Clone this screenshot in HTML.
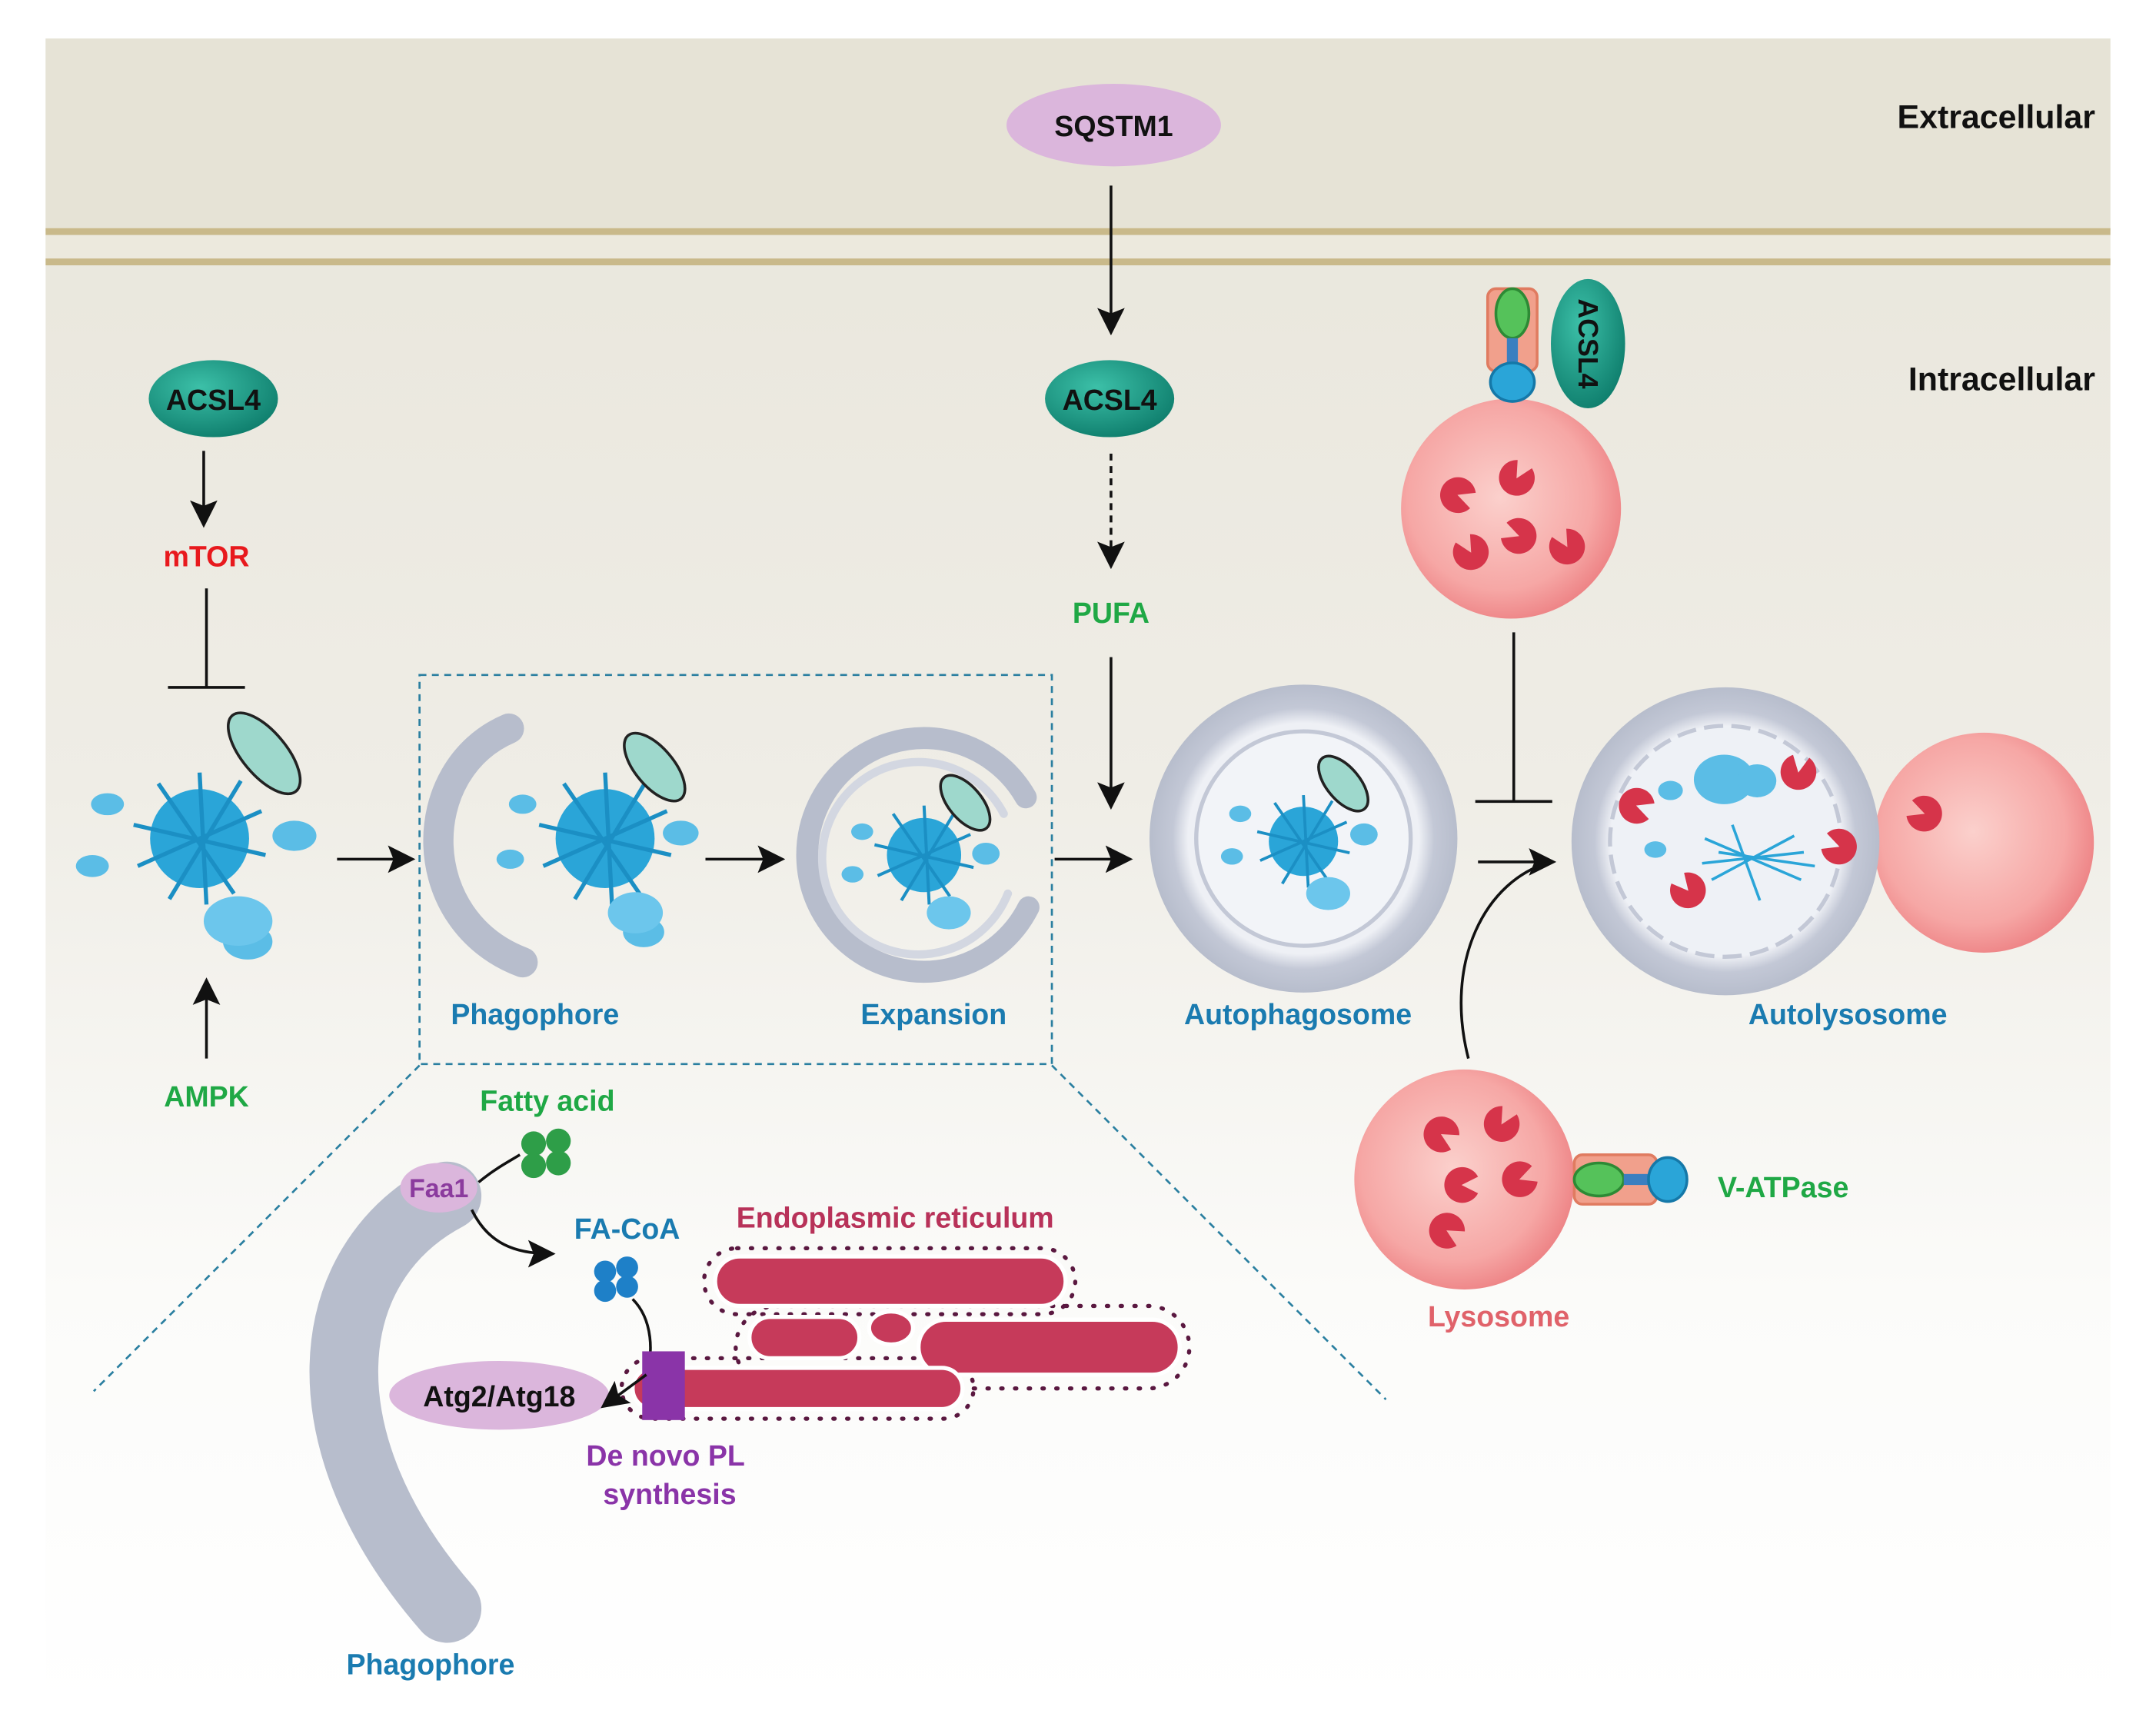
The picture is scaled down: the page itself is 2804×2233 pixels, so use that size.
<!DOCTYPE html>
<html><head><meta charset="utf-8"><style>
html,body{margin:0;padding:0;background:#fff}
svg{display:block}
text{font-family:"Liberation Sans",sans-serif;font-weight:bold}
</style></head><body>
<svg width="2804" height="2233" viewBox="0 0 1568 1249" xmlns="http://www.w3.org/2000/svg">
<defs>
<linearGradient id="bg" x1="0" y1="0" x2="0" y2="1">
<stop offset="0" stop-color="#e8e5da"/><stop offset="0.45" stop-color="#efede6"/><stop offset="0.75" stop-color="#fbfbf9"/><stop offset="1" stop-color="#ffffff"/>
</linearGradient>
<radialGradient id="teal" cx="0.4" cy="0.35" r="0.7"><stop offset="0" stop-color="#3cc0a8"/><stop offset="1" stop-color="#0e7d6c"/></radialGradient>
<radialGradient id="pink" cx="0.45" cy="0.45" r="0.6"><stop offset="0" stop-color="#fbd0cc"/><stop offset="0.7" stop-color="#f6a7a5"/><stop offset="1" stop-color="#ec7d80"/></radialGradient>
<radialGradient id="gray" cx="0.5" cy="0.5" r="0.5"><stop offset="0.75" stop-color="#eef0f5"/><stop offset="0.85" stop-color="#c3c8d6"/><stop offset="1" stop-color="#b7bdcc"/></radialGradient>
<marker id="ah" markerWidth="10" markerHeight="10" refX="8" refY="5" orient="auto" markerUnits="userSpaceOnUse"><path d="M0,0 L10,5 L0,10 Z" fill="#111"/></marker>
<marker id="ahb" markerWidth="20" markerHeight="20" refX="16" refY="10" orient="auto" markerUnits="userSpaceOnUse"><path d="M0,0 L20,10 L0,20 L4,10 Z" fill="#111"/></marker>
<g id="cluster">
<circle r="36" fill="#2aa5d8"/>
<g stroke="#1b8fc4" stroke-width="3">
<line x1="-48" y1="-10" x2="48" y2="12"/><line x1="-30" y1="-40" x2="25" y2="40"/><line x1="30" y1="-42" x2="-22" y2="44"/><line x1="-45" y1="20" x2="45" y2="-20"/><line x1="0" y1="-48" x2="5" y2="48"/>
</g>
</g>
<g id="pac"><path d="M0,0 L12,-6 A13,13 0 1 0 12,6 Z" fill="#d6344a"/></g>
<g id="vat">
<rect x="-18" y="-40" width="36" height="60" rx="6" fill="#f1a08c" stroke="#e07b60" stroke-width="2"/>
<ellipse cx="0" cy="-22" rx="12" ry="18" fill="#55c25a" stroke="#2d8a35" stroke-width="2"/>
<rect x="-4" y="-4" width="8" height="22" fill="#3b7fc0"/>
<ellipse cx="0" cy="28" rx="16" ry="14" fill="#2aa5d8" stroke="#1578a8" stroke-width="2"/>
</g>
</defs>

<rect x="33" y="28" width="1502" height="1215" fill="url(#bg)"/>
<rect x="33" y="28" width="1502" height="140" fill="#e6e3d6"/>
<rect x="33" y="166" width="1502" height="5" fill="#c9b98a"/>
<rect x="33" y="188" width="1502" height="5" fill="#c9b98a"/>
<rect x="33" y="171" width="1502" height="17" fill="#ece9dd"/>

<text x="1524" y="93" font-size="24" text-anchor="end" fill="#111">Extracellular</text>
<text x="1524" y="284" font-size="24" text-anchor="end" fill="#111">Intracellular</text>

<ellipse cx="810" cy="91" rx="78" ry="30" fill="#dbb6dc"/>
<text x="810" y="99" font-size="21" text-anchor="middle" fill="#111">SQSTM1</text>
<line x1="808" y1="135" x2="808" y2="240" stroke="#111" stroke-width="2" marker-end="url(#ahb)"/>

<ellipse cx="155" cy="290" rx="47" ry="28" fill="url(#teal)"/>
<text x="155" y="298" font-size="21" text-anchor="middle" fill="#111">ACSL4</text>
<ellipse cx="807" cy="290" rx="47" ry="28" fill="url(#teal)"/>
<text x="807" y="298" font-size="21" text-anchor="middle" fill="#111">ACSL4</text>

<line x1="808" y1="330" x2="808" y2="410" stroke="#111" stroke-width="2" stroke-dasharray="5,4" marker-end="url(#ahb)"/>
<text x="808" y="453" font-size="21" text-anchor="middle" fill="#1fa845">PUFA</text>
<line x1="808" y1="478" x2="808" y2="585" stroke="#111" stroke-width="2" marker-end="url(#ahb)"/>

<line x1="148" y1="328" x2="148" y2="380" stroke="#111" stroke-width="2" marker-end="url(#ahb)"/>
<text x="150" y="412" font-size="21" text-anchor="middle" fill="#e8191d">mTOR</text>
<line x1="150" y1="428" x2="150" y2="500" stroke="#111" stroke-width="2"/>
<line x1="122" y1="500" x2="178" y2="500" stroke="#111" stroke-width="2"/>

<!-- cargo 1 -->
<use href="#cluster" x="145" y="610"/>
<ellipse cx="192" cy="548" rx="16" ry="36" transform="rotate(-40 192 548)" fill="#9ed8cc" stroke="#222" stroke-width="2"/>
<ellipse cx="78" cy="585" rx="12" ry="8" fill="#5bbde6"/><ellipse cx="67" cy="630" rx="12" ry="8" fill="#5bbde6"/>
<ellipse cx="214" cy="608" rx="16" ry="11" fill="#5bbde6"/>
<ellipse cx="180" cy="685" rx="18" ry="13" fill="#5bbde6"/><ellipse cx="173" cy="670" rx="25" ry="18" fill="#6cc6ec"/>
<line x1="150" y1="770" x2="150" y2="715" stroke="#111" stroke-width="2" marker-end="url(#ahb)"/>
<text x="150" y="805" font-size="21" text-anchor="middle" fill="#1fa845">AMPK</text>
<line x1="245" y1="625" x2="298" y2="625" stroke="#111" stroke-width="2" marker-end="url(#ahb)"/>

<rect x="305" y="491" width="460" height="283" fill="none" stroke="#2a7fa0" stroke-width="1.5" stroke-dasharray="5,4"/>

<!-- phagophore crescent -->
<path d="M370,530 C300,560 300,670 380,700" fill="none" stroke="#b7bdcc" stroke-width="22" stroke-linecap="round"/>
<use href="#cluster" x="440" y="610" transform="scale(1)"/>
<ellipse cx="476" cy="558" rx="14" ry="30" transform="rotate(-40 476 558)" fill="#9ed8cc" stroke="#222" stroke-width="2"/>
<ellipse cx="380" cy="585" rx="10" ry="7" fill="#5bbde6"/><ellipse cx="371" cy="625" rx="10" ry="7" fill="#5bbde6"/>
<ellipse cx="495" cy="606" rx="13" ry="9" fill="#5bbde6"/>
<ellipse cx="468" cy="678" rx="15" ry="11" fill="#5bbde6"/><ellipse cx="462" cy="664" rx="20" ry="15" fill="#6cc6ec"/>
<line x1="513" y1="625" x2="567" y2="625" stroke="#111" stroke-width="2" marker-end="url(#ahb)"/>

<!-- expansion -->
<path d="M746,580 A85,85 0 1 0 748,660" fill="none" stroke="#b7bdcc" stroke-width="16" stroke-linecap="round"/>
<path d="M730,592 A70,70 0 1 0 733,650" fill="none" stroke="#d3d7e1" stroke-width="6" stroke-linecap="round"/>
<use href="#cluster" x="0" y="0" transform="translate(672 622) scale(0.75)"/>
<ellipse cx="702" cy="584" rx="12" ry="24" transform="rotate(-40 702 584)" fill="#9ed8cc" stroke="#222" stroke-width="2"/>
<ellipse cx="627" cy="605" rx="8" ry="6" fill="#5bbde6"/><ellipse cx="620" cy="636" rx="8" ry="6" fill="#5bbde6"/>
<ellipse cx="717" cy="621" rx="10" ry="8" fill="#5bbde6"/><ellipse cx="690" cy="664" rx="16" ry="12" fill="#6cc6ec"/>
<line x1="767" y1="625" x2="820" y2="625" stroke="#111" stroke-width="2" marker-end="url(#ahb)"/>

<!-- autophagosome -->
<circle cx="948" cy="610" r="112" fill="url(#gray)"/>
<circle cx="948" cy="610" r="78" fill="#f2f4f8" stroke="#c3c8d6" stroke-width="3"/>
<use href="#cluster" x="0" y="0" transform="translate(948 612) scale(0.7)"/>
<ellipse cx="977" cy="570" rx="12" ry="24" transform="rotate(-40 977 570)" fill="#9ed8cc" stroke="#222" stroke-width="2"/>
<ellipse cx="902" cy="592" rx="8" ry="6" fill="#5bbde6"/><ellipse cx="896" cy="623" rx="8" ry="6" fill="#5bbde6"/>
<ellipse cx="992" cy="607" rx="10" ry="8" fill="#5bbde6"/><ellipse cx="966" cy="650" rx="16" ry="12" fill="#6cc6ec"/>

<!-- top lysosome + ACSL4 -->
<circle cx="1099" cy="370" r="80" fill="url(#pink)"/>
<use href="#pac" transform="translate(1060 360) rotate(20)"/>
<use href="#pac" transform="translate(1103 348) rotate(-60)"/>
<use href="#pac" transform="translate(1105 390) rotate(200)"/>
<use href="#pac" transform="translate(1070 402) rotate(-120)"/>
<use href="#pac" transform="translate(1140 398) rotate(240)"/>
<use href="#vat" transform="translate(1100 250)"/>
<ellipse cx="1155" cy="250" rx="27" ry="47" fill="url(#teal)"/>
<text x="0" y="0" font-size="20" text-anchor="middle" fill="#111" transform="translate(1148 250) rotate(90)">ACSL4</text>

<line x1="1101" y1="460" x2="1101" y2="583" stroke="#111" stroke-width="2"/>
<line x1="1073" y1="583" x2="1129" y2="583" stroke="#111" stroke-width="2"/>
<line x1="1075" y1="627" x2="1128" y2="627" stroke="#111" stroke-width="2" marker-end="url(#ahb)"/>
<path d="M1068,770 C1050,700 1080,640 1128,627" fill="none" stroke="#111" stroke-width="2"/>

<!-- autolysosome -->
<circle cx="1443" cy="613" r="80" fill="url(#pink)"/>
<use href="#pac" transform="translate(1400 592) rotate(200)"/>
<circle cx="1255" cy="612" r="112" fill="url(#gray)"/>
<circle cx="1255" cy="612" r="84" fill="#eef1f6" stroke="#c3c8d6" stroke-width="3" stroke-dasharray="14,6"/>
<ellipse cx="1254" cy="567" rx="22" ry="18" fill="#5bbde6"/><ellipse cx="1278" cy="568" rx="14" ry="12" fill="#5bbde6"/>
<ellipse cx="1215" cy="575" rx="9" ry="7" fill="#5bbde6"/><ellipse cx="1204" cy="618" rx="8" ry="6" fill="#5bbde6"/>
<g stroke="#2aa5d8" stroke-width="2"><line x1="1240" y1="610" x2="1310" y2="640"/><line x1="1245" y1="640" x2="1305" y2="608"/><line x1="1250" y1="620" x2="1320" y2="630"/><line x1="1260" y1="600" x2="1280" y2="655"/><line x1="1238" y1="628" x2="1312" y2="620"/></g>
<use href="#pac" transform="translate(1190 586) rotate(20)"/>
<use href="#pac" transform="translate(1308 562) rotate(-80)"/>
<use href="#pac" transform="translate(1338 616) rotate(200)"/>
<use href="#pac" transform="translate(1228 648) rotate(-130)"/>

<text x="389" y="745" font-size="21" text-anchor="middle" fill="#1a7bb0">Phagophore</text>
<text x="679" y="745" font-size="21" text-anchor="middle" fill="#1a7bb0">Expansion</text>
<text x="944" y="745" font-size="21" text-anchor="middle" fill="#1a7bb0">Autophagosome</text>
<text x="1344" y="745" font-size="21" text-anchor="middle" fill="#1a7bb0">Autolysosome</text>

<!-- bottom lysosome -->
<circle cx="1065" cy="858" r="80" fill="url(#pink)"/>
<use href="#pac" transform="translate(1048 825) rotate(30)"/>
<use href="#pac" transform="translate(1092 818) rotate(-60)"/>
<use href="#pac" transform="translate(1063 862) rotate(0)"/>
<use href="#pac" transform="translate(1105 858) rotate(-20)"/>
<use href="#pac" transform="translate(1052 895) rotate(30)"/>
<use href="#vat" transform="translate(1185 858) rotate(-90)"/>
<text x="1297" y="871" font-size="21" text-anchor="middle" fill="#1fa845">V-ATPase</text>
<text x="1090" y="965" font-size="21" text-anchor="middle" fill="#e0626a">Lysosome</text>

<!-- zoom lines -->
<line x1="305" y1="775" x2="68" y2="1012" stroke="#2a7fa0" stroke-width="1.5" stroke-dasharray="5,4"/>
<line x1="765" y1="775" x2="1008" y2="1018" stroke="#2a7fa0" stroke-width="1.5" stroke-dasharray="5,4"/>

<!-- bottom detail -->
<path d="M325,870 C230,920 220,1050 325,1170" fill="none" stroke="#b7bdcc" stroke-width="50" stroke-linecap="round"/>
<text x="313" y="1218" font-size="21" text-anchor="middle" fill="#1a7bb0">Phagophore</text>
<text x="398" y="808" font-size="21" text-anchor="middle" fill="#1fa845">Fatty acid</text>
<g fill="#2e9e48"><circle cx="388" cy="832" r="9"/><circle cx="406" cy="830" r="9"/><circle cx="388" cy="848" r="9"/><circle cx="406" cy="846" r="9"/></g>
<path d="M348,860 C360,850 370,845 378,840" fill="none" stroke="#111" stroke-width="2"/>
<ellipse cx="319" cy="864" rx="28" ry="18" fill="#dbb6dc"/>
<text x="319" y="871" font-size="19" text-anchor="middle" fill="#8b3b9e">Faa1</text>
<path d="M343,880 C355,905 375,912 400,912" fill="none" stroke="#111" stroke-width="2" marker-end="url(#ahb)"/>
<text x="456" y="901" font-size="21" text-anchor="middle" fill="#1a7bb0">FA-CoA</text>
<g fill="#1e80c8"><circle cx="440" cy="925" r="8"/><circle cx="456" cy="922" r="8"/><circle cx="440" cy="939" r="8"/><circle cx="456" cy="936" r="8"/></g>
<path d="M460,945 C475,960 475,985 470,1000" fill="none" stroke="#111" stroke-width="2"/>
<text x="651" y="893" font-size="21" text-anchor="middle" fill="#b83259">Endoplasmic reticulum</text>
<g stroke="#5a1840" stroke-width="3" stroke-dasharray="1,9" stroke-linecap="round" fill="none">
<rect x="512" y="908" width="270" height="48" rx="24"/>
<rect x="535" y="950" width="330" height="60" rx="30"/>
<rect x="452" y="988" width="256" height="44" rx="22"/>
</g>
<g fill="#c63a5a" stroke="#fff" stroke-width="3">
<rect x="520" y="914" width="255" height="36" rx="18"/>
<rect x="545" y="958" width="80" height="30" rx="15"/>
<ellipse cx="648" cy="966" rx="16" ry="12"/>
<rect x="668" y="960" width="190" height="40" rx="20"/>
<rect x="460" y="995" width="240" height="30" rx="15"/>
</g>
<rect x="467" y="983" width="31" height="50" fill="#8a34a8"/>
<ellipse cx="363" cy="1015" rx="80" ry="25" fill="#dbb6dc"/>
<text x="363" y="1023" font-size="21" text-anchor="middle" fill="#111">Atg2/Atg18</text>
<line x1="470" y1="1000" x2="440" y2="1022" stroke="#111" stroke-width="2" marker-end="url(#ahb)"/>
<text x="484" y="1066" font-size="21" text-anchor="middle" fill="#8a34a8">De novo PL</text>
<text x="487" y="1094" font-size="21" text-anchor="middle" fill="#8a34a8">synthesis</text>
</svg>
</body></html>
